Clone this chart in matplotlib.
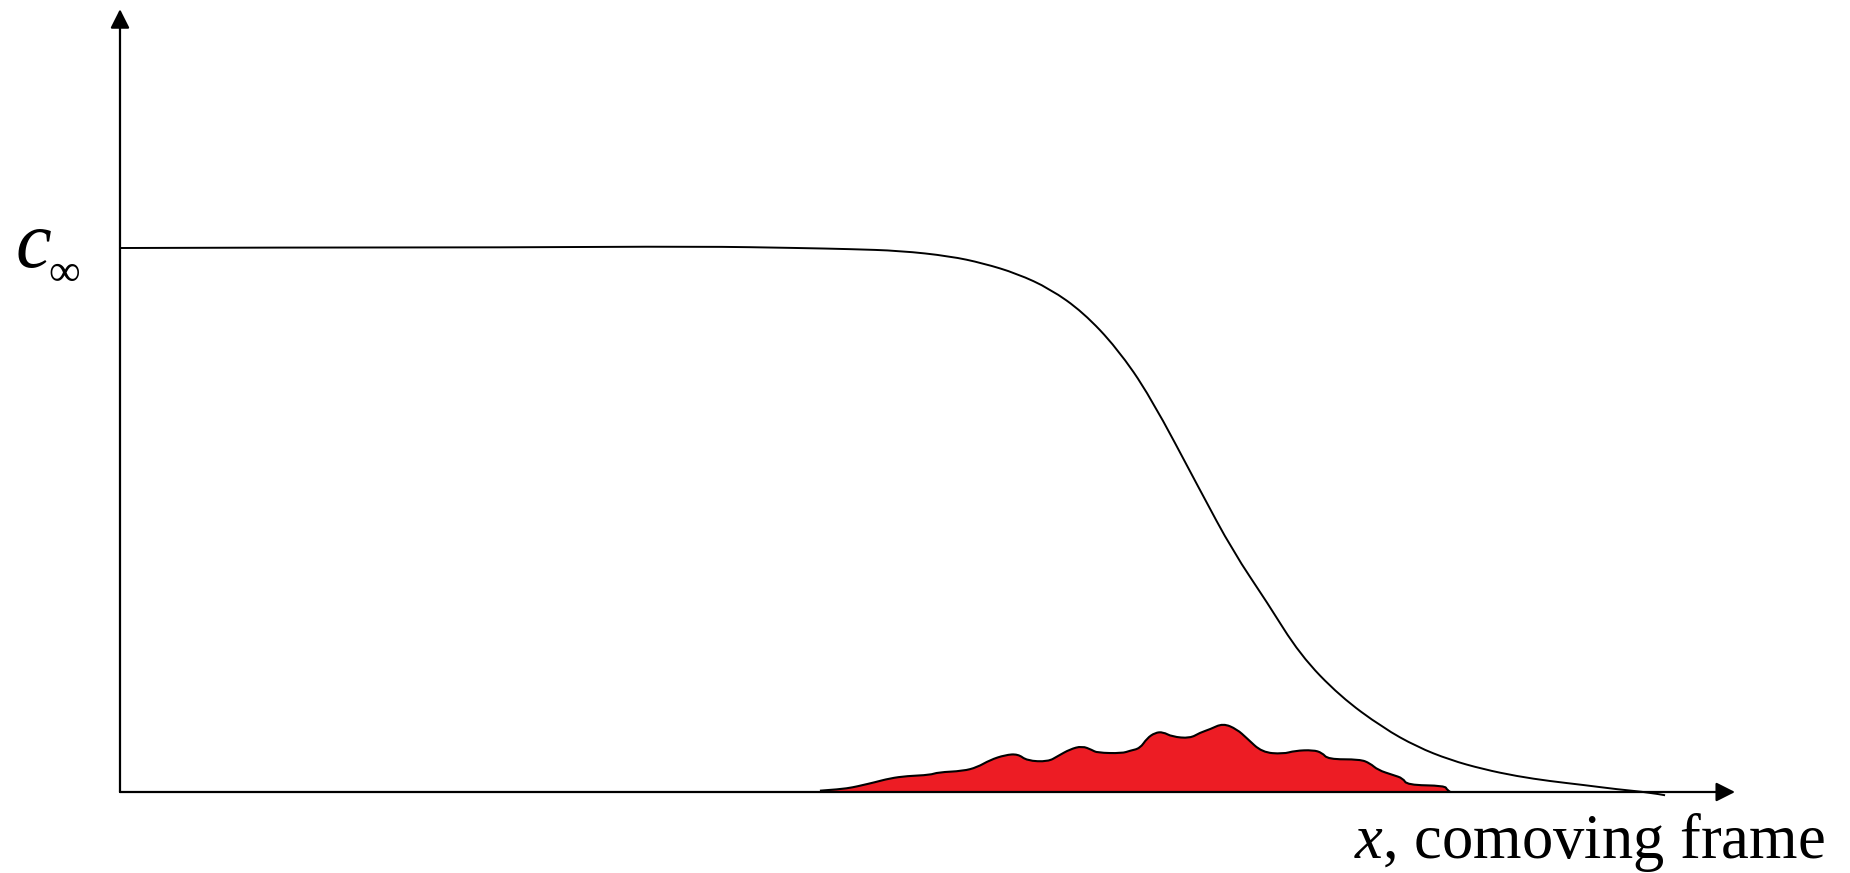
import matplotlib
matplotlib.use("Agg")
import matplotlib.pyplot as plt
from matplotlib.path import Path
from matplotlib.patches import PathPatch

# ---- data (x: position along comoving frame, 0..100 = axis end; y: c / c_inf) ----
curve_x = [0.0, 11.15, 23.53, 35.91, 42.11, 45.20, 48.30, 51.39, 53.44, 55.54,
           57.59, 59.63, 61.73, 63.78, 66.87, 68.92, 71.02, 73.07, 75.54, 78.20,
           80.31, 82.35, 84.40, 86.50, 88.54, 90.59, 92.69, 94.74, 95.67]
curve_y = [1.000, 1.001, 1.001, 1.003, 1.000, 0.998, 0.995, 0.985, 0.972, 0.953,
           0.925, 0.882, 0.816, 0.728, 0.555, 0.442, 0.349, 0.252, 0.176, 0.118,
           0.083, 0.059, 0.042, 0.029, 0.020, 0.013, 0.005, -0.001, -0.006]

red_x = [43.34, 44.58, 45.39, 46.01, 46.63, 47.68, 48.73, 50.15, 50.65, 52.20,
         53.07, 53.87, 54.80, 55.60, 56.16, 57.46, 58.08, 58.82, 59.57, 60.19,
         60.50, 62.04, 62.54, 63.16, 63.59, 64.09, 64.58, 65.14, 66.25, 66.87,
         67.49, 68.30, 69.16, 69.78, 70.71, 72.01, 72.76, 73.87, 74.43, 74.80,
         76.78, 77.40, 77.89, 78.82, 79.44, 79.69, 82.04, 82.17, 82.35]
red_y = [0.0024, 0.0050, 0.0086, 0.0129, 0.0171, 0.0252, 0.0294, 0.0313, 0.0362, 0.0386,
         0.0454, 0.0588, 0.0680, 0.0699, 0.0575, 0.0557, 0.0662, 0.0785, 0.0846, 0.0772,
         0.0722, 0.0711, 0.0759, 0.0803, 0.0987, 0.1090, 0.1103, 0.1017, 0.0987, 0.1090,
         0.1153, 0.1263, 0.1153, 0.0987, 0.0730, 0.0699, 0.0759, 0.0772, 0.0722, 0.0601,
         0.0601, 0.0528, 0.0404, 0.0313, 0.0252, 0.0129, 0.0116, 0.0037, 0.0006]

x_axis_end = 100.0
y_axis_end = 1.439

plt.rcParams['mathtext.fontset'] = 'custom'
plt.rcParams['mathtext.rm'] = 'Liberation Serif'
plt.rcParams['mathtext.it'] = 'Liberation Serif:italic'


def smooth_verts(xs, ys):
    """Quadratic B-spline style path: the read points act as Bezier control points."""
    pts = list(zip(xs, ys))
    verts = [pts[0]]
    codes = [Path.MOVETO]
    for i in range(1, len(pts) - 1):
        mid = ((pts[i][0] + pts[i + 1][0]) / 2, (pts[i][1] + pts[i + 1][1]) / 2)
        if i == len(pts) - 2:
            mid = pts[-1]
        verts += [pts[i], mid]
        codes += [Path.CURVE3, Path.CURVE3]
    return verts, codes


fig = plt.figure(figsize=(18.5, 8.73), dpi=100)
ax = fig.add_axes([0, 0, 1, 1])
ax.set_xlim(-7.43, 107.12)
ax.set_ylim(-0.1489, 1.4559)
ax.axis('off')

# red distribution (smooth outline, filled down to the axis)
rv, rc = smooth_verts(red_x, red_y)
fill_verts = rv + [(red_x[-1], 0), (red_x[0], 0), (red_x[0], 0)]
fill_codes = rc + [Path.LINETO, Path.LINETO, Path.CLOSEPOLY]
ax.add_patch(PathPatch(Path(fill_verts, fill_codes), facecolor='#ED1C24',
                       edgecolor='none', zorder=1))
ax.add_patch(PathPatch(Path(rv, rc), facecolor='none', edgecolor='black',
                       lw=1.5, zorder=2))

# concentration profile (smooth)
cv, cc = smooth_verts(curve_x, curve_y)
ax.add_patch(PathPatch(Path(cv, cc), facecolor='none',
                       edgecolor='black', lw=1.4, zorder=3))

# axes with arrowheads
arrow_style = '-|>,head_length=0.575,head_width=0.29'
ax.annotate('', xy=(x_axis_end, 0), xytext=(0, 0),
            arrowprops=dict(arrowstyle=arrow_style, color='black', lw=1.6,
                            mutation_scale=20, shrinkA=0, shrinkB=0), zorder=4)
ax.annotate('', xy=(0, y_axis_end), xytext=(0, 0),
            arrowprops=dict(arrowstyle=arrow_style, color='black', lw=1.6,
                            mutation_scale=20, shrinkA=0, shrinkB=0), zorder=4)

# labels
ax.text(-6.45, 0.966, 'c', fontsize=58, fontfamily='Liberation Serif',
        fontstyle='italic', ha='left', va='baseline')
ax.text(-4.45, 0.952, '\u221e', fontsize=32, fontfamily='Liberation Serif',
        ha='left', va='center')
ax.text(105.57, -0.122, r'$x$, comoving frame', fontsize=45,
        fontfamily='Liberation Serif', ha='right', va='baseline')

fig.savefig('out.png', dpi=100)
